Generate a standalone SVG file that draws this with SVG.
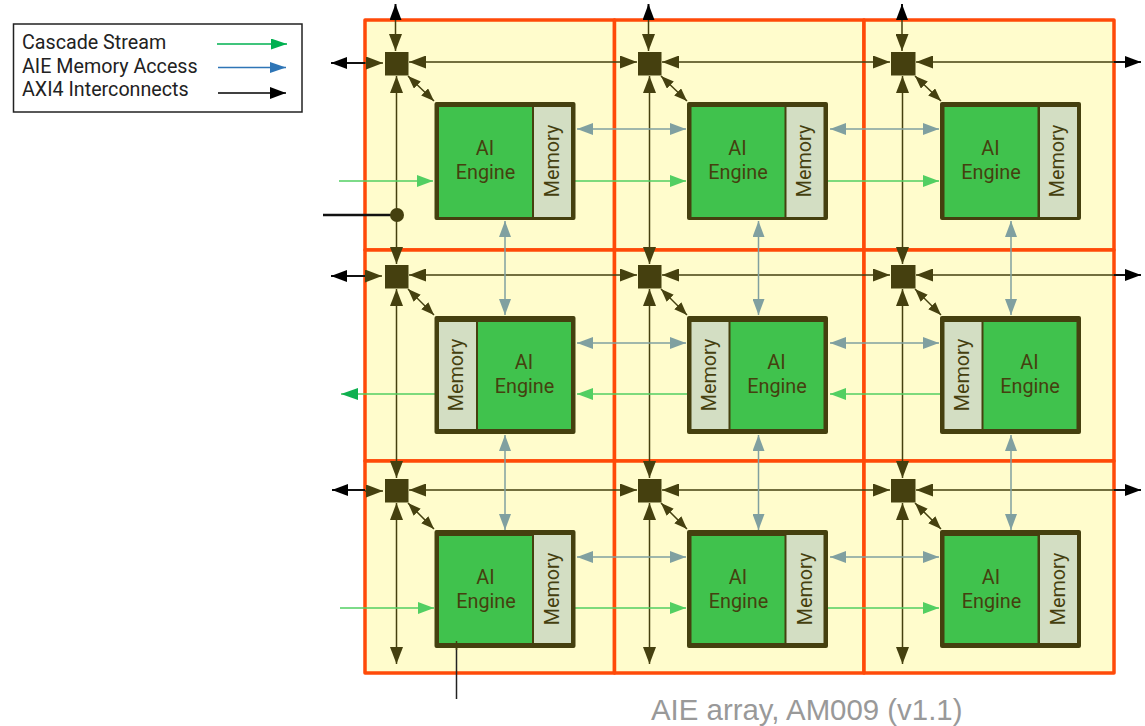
<svg xmlns="http://www.w3.org/2000/svg" width="1145" height="726" viewBox="0 0 1145 726">
<style>
text{font-family:Roboto,"Liberation Sans",sans-serif}
.ol{stroke:#45400f;stroke-width:1.5;fill:none}
.ga{stroke:#80a0a0;stroke-width:1.5;fill:none}
.gr{stroke:#52cf62;stroke-width:1.5;fill:none}
.bk{stroke:#111;stroke-width:2;fill:none}
.cell{fill:#fffccc;stroke:#ff4a08;stroke-width:3.5;stroke-linejoin:round}
.sw{fill:#45400f}
.box{fill:#45400f}
.eng{fill:#40c24d}
.mem{fill:#d3dec3}
.lbl{fill:#45400f;font-size:19.8px;text-anchor:middle}
.lg{fill:#222;font-size:19.7px}
.ol-b{marker-start:url(#mo);marker-end:url(#mo)}
.ol-e{marker-end:url(#mo)}
.ol-d{marker-start:url(#ms);marker-end:url(#ms)}
.ga-b{marker-start:url(#mg);marker-end:url(#mg)}
.gr-e{marker-end:url(#mv)}
</style>
<defs>
<marker id="mo" markerUnits="userSpaceOnUse" markerWidth="17" markerHeight="13" refX="17" refY="6.5" orient="auto-start-reverse"><path d="M0 0L17 6.500L0 13z" fill="#45400f"/></marker>
<marker id="ms" markerUnits="userSpaceOnUse" markerWidth="13" markerHeight="10" refX="13" refY="5" orient="auto-start-reverse"><path d="M0 0L13 5L0 10z" fill="#45400f"/></marker>
<marker id="mg" markerUnits="userSpaceOnUse" markerWidth="16" markerHeight="12" refX="16" refY="6" orient="auto-start-reverse"><path d="M0 0L16 6L0 12z" fill="#80a0a0"/></marker>
<marker id="mv" markerUnits="userSpaceOnUse" markerWidth="16" markerHeight="12" refX="16" refY="6" orient="auto"><path d="M0 0L16 6L0 12z" fill="#52cf62"/></marker>
<marker id="md" markerUnits="userSpaceOnUse" markerWidth="17" markerHeight="12" refX="17" refY="6" orient="auto"><path d="M0 0L17 6L0 12z" fill="#0fb050"/></marker>
<marker id="mb" markerUnits="userSpaceOnUse" markerWidth="16" markerHeight="12" refX="16" refY="6" orient="auto"><path d="M0 0L16 6L0 12z" fill="#000"/></marker>
<marker id="ml" markerUnits="userSpaceOnUse" markerWidth="16" markerHeight="11" refX="16" refY="5.5" orient="auto"><path d="M0 0L16 5.500L0 11z" fill="#2e75b6"/></marker>
<marker id="mn" markerUnits="userSpaceOnUse" markerWidth="16" markerHeight="11" refX="16" refY="5.5" orient="auto"><path d="M0 0L16 5.500L0 11z" fill="#00b050"/></marker>
</defs>

<g id="tiles">
<rect class="cell" x="365" y="20" width="249.500" height="230"/>
<rect class="cell" x="614.500" y="20" width="249.500" height="230"/>
<rect class="cell" x="864" y="20" width="250" height="230"/>
<rect class="cell" x="365" y="250" width="249.500" height="211"/>
<rect class="cell" x="614.500" y="250" width="249.500" height="211"/>
<rect class="cell" x="864" y="250" width="250" height="211"/>
<rect class="cell" x="365" y="461" width="249.500" height="212"/>
<rect class="cell" x="614.500" y="461" width="249.500" height="212"/>
<rect class="cell" x="864" y="461" width="250" height="212"/>
</g>

<g id="connectors">
<line class="bk" x1="395.500" y1="20" x2="395.500" y2="4" marker-end="url(#mb)"/>
<line class="bk" x1="648.500" y1="20" x2="648.500" y2="4" marker-end="url(#mb)"/>
<line class="bk" x1="902" y1="20" x2="902" y2="4" marker-end="url(#mb)"/>
<line class="bk" x1="365" y1="63" x2="331" y2="63" marker-end="url(#mb)"/>
<line class="bk" x1="365" y1="276" x2="331" y2="276" marker-end="url(#mb)"/>
<line class="bk" x1="365" y1="490" x2="332" y2="490" marker-end="url(#mb)"/>
<line class="bk" x1="1114" y1="62" x2="1141" y2="62" marker-end="url(#mb)"/>
<line class="bk" x1="1114" y1="275" x2="1141" y2="275" marker-end="url(#mb)"/>
<line class="bk" x1="1114" y1="490" x2="1141" y2="490" marker-end="url(#mb)"/>
<line class="bk" style="stroke-width:2.5" x1="323" y1="215" x2="396" y2="215"/>
<line x1="456.500" y1="641" x2="456.500" y2="699" stroke="#222" stroke-width="1.500"/>

<line class="ol ol-e" x1="395.500" y1="20" x2="395.500" y2="51"/>
<line class="ol ol-e" x1="648.500" y1="20" x2="648.500" y2="51"/>
<line class="ol ol-e" x1="902" y1="20" x2="902" y2="51"/>
<line class="ol ol-b" x1="396.500" y1="76" x2="396.500" y2="264"/>
<line class="ol ol-b" x1="649.500" y1="76" x2="649.500" y2="264"/>
<line class="ol ol-b" x1="902.500" y1="76" x2="902.500" y2="264"/>
<line class="ol ol-b" x1="396.500" y1="289" x2="396.500" y2="478"/>
<line class="ol ol-b" x1="649.500" y1="289" x2="649.500" y2="478"/>
<line class="ol ol-b" x1="902.500" y1="289" x2="902.500" y2="478"/>
<line class="ol ol-b" x1="396.500" y1="503" x2="396.500" y2="664"/>
<line class="ol ol-b" x1="649.500" y1="503" x2="649.500" y2="664"/>
<line class="ol ol-b" x1="902.500" y1="503" x2="902.500" y2="664"/>
<line class="ol ol-e" x1="365" y1="63" x2="383" y2="63"/>
<line class="ol ol-e" x1="365" y1="276" x2="382" y2="276"/>
<line class="ol ol-e" x1="365" y1="491" x2="383" y2="491"/>
<line class="ol ol-b" x1="409" y1="62" x2="637" y2="62"/>
<line class="ol ol-b" x1="662" y1="62" x2="890" y2="62"/>
<line class="ol ol-e" x1="1114" y1="62" x2="916" y2="62"/>
<line class="ol ol-b" x1="409" y1="275" x2="637" y2="275"/>
<line class="ol ol-b" x1="662" y1="275" x2="890" y2="275"/>
<line class="ol ol-e" x1="1114" y1="275" x2="916" y2="275"/>
<line class="ol ol-b" x1="409" y1="490" x2="637" y2="490"/>
<line class="ol ol-b" x1="662" y1="490" x2="890" y2="490"/>
<line class="ol ol-e" x1="1114" y1="490" x2="916" y2="490"/>
<line class="ol ol-d" x1="408" y1="76" x2="434" y2="101"/>
<line class="ol ol-d" x1="661" y1="76" x2="687" y2="101"/>
<line class="ol ol-d" x1="915" y1="76" x2="941" y2="101"/>
<line class="ol ol-d" x1="408" y1="289" x2="434" y2="315"/>
<line class="ol ol-d" x1="661" y1="289" x2="687" y2="315"/>
<line class="ol ol-d" x1="915" y1="289" x2="941" y2="315"/>
<line class="ol ol-d" x1="408" y1="503" x2="434" y2="529"/>
<line class="ol ol-d" x1="661" y1="503" x2="687" y2="529"/>
<line class="ol ol-d" x1="915" y1="503" x2="941" y2="529"/>

<line class="ga ga-b" x1="577" y1="129" x2="686" y2="129"/>
<line class="ga ga-b" x1="830" y1="129" x2="939" y2="129"/>
<line class="ga ga-b" x1="577" y1="343" x2="686" y2="343"/>
<line class="ga ga-b" x1="830" y1="343" x2="939" y2="343"/>
<line class="ga ga-b" x1="577" y1="557" x2="686" y2="557"/>
<line class="ga ga-b" x1="830" y1="557" x2="939" y2="557"/>
<line class="ga ga-b" x1="505" y1="221" x2="505" y2="315"/>
<line class="ga ga-b" x1="758.500" y1="221" x2="758.500" y2="315"/>
<line class="ga ga-b" x1="1011" y1="221" x2="1011" y2="315"/>
<line class="ga ga-b" x1="505" y1="435" x2="505" y2="530"/>
<line class="ga ga-b" x1="758.500" y1="435" x2="758.500" y2="530"/>
<line class="ga ga-b" x1="1011" y1="435" x2="1011" y2="530"/>

<line class="gr gr-e" x1="339" y1="181" x2="433" y2="181"/>
<line class="gr gr-e" x1="575" y1="181" x2="686" y2="181"/>
<line class="gr gr-e" x1="828" y1="181" x2="939" y2="181"/>
<line class="gr" x1="435" y1="394" x2="341" y2="394" marker-end="url(#md)"/>
<line class="gr gr-e" x1="688" y1="394" x2="577" y2="394"/>
<line class="gr gr-e" x1="941" y1="394" x2="830" y2="394"/>
<line class="gr gr-e" x1="340" y1="608" x2="434" y2="608"/>
<line class="gr gr-e" x1="575" y1="608" x2="686" y2="608"/>
<line class="gr gr-e" x1="828" y1="608" x2="939" y2="608"/>
</g>

<g id="switch-1-1"><rect class="sw" x="385" y="52" width="23.500" height="23.500"/></g>
<g id="switch-1-2"><rect class="sw" x="638" y="52" width="23.500" height="23.500"/></g>
<g id="switch-1-3"><rect class="sw" x="891" y="52" width="24.500" height="23.500"/></g>
<g id="switch-2-1"><rect class="sw" x="385" y="265" width="23.500" height="23.500"/></g>
<g id="switch-2-2"><rect class="sw" x="638" y="265" width="23.500" height="23.500"/></g>
<g id="switch-2-3"><rect class="sw" x="891" y="265" width="24.500" height="23.500"/></g>
<g id="switch-3-1"><rect class="sw" x="385" y="479" width="23.500" height="23.500"/></g>
<g id="switch-3-2"><rect class="sw" x="638" y="479" width="23.500" height="23.500"/></g>
<g id="switch-3-3"><rect class="sw" x="891" y="479" width="24.500" height="23.500"/></g>
<g id="junction"><circle class="sw" cx="397" cy="215" r="7"/></g>

<g id="aie-1-1"><rect class="box" x="434.500" y="102" width="141" height="118" rx="2"/><rect class="eng" x="439" y="107" width="93" height="110"/><rect class="mem" x="534" y="107" width="37" height="110"/><text class="lbl" x="485" y="155">AI</text><text class="lbl" x="485.500" y="179">Engine</text><text class="lbl" transform="translate(559,161) rotate(-90)">Memory</text></g>
<g id="aie-1-2"><rect class="box" x="687" y="102" width="141" height="118" rx="2"/><rect class="eng" x="691.500" y="107" width="93" height="110"/><rect class="mem" x="786.500" y="107" width="37" height="110"/><text class="lbl" x="737.500" y="155">AI</text><text class="lbl" x="738" y="179">Engine</text><text class="lbl" transform="translate(811,161) rotate(-90)">Memory</text></g>
<g id="aie-1-3"><rect class="box" x="940" y="102" width="141" height="118" rx="2"/><rect class="eng" x="944.500" y="107" width="93" height="110"/><rect class="mem" x="1040" y="107" width="37" height="110"/><text class="lbl" x="990.500" y="155">AI</text><text class="lbl" x="991" y="179">Engine</text><text class="lbl" transform="translate(1064,161) rotate(-90)">Memory</text></g>

<g id="aie-2-1"><rect class="box" x="434.500" y="316" width="141" height="118" rx="2"/><rect class="mem" x="439" y="322" width="37" height="107"/><rect class="eng" x="478" y="322" width="93" height="107"/><text class="lbl" x="524" y="369">AI</text><text class="lbl" x="524.500" y="393">Engine</text><text class="lbl" transform="translate(463,375) rotate(-90)">Memory</text></g>
<g id="aie-2-2"><rect class="box" x="687" y="316" width="141" height="118" rx="2"/><rect class="mem" x="691.500" y="322" width="37" height="107"/><rect class="eng" x="730.500" y="322" width="93" height="107"/><text class="lbl" x="776.500" y="369">AI</text><text class="lbl" x="777" y="393">Engine</text><text class="lbl" transform="translate(715.500,375) rotate(-90)">Memory</text></g>
<g id="aie-2-3"><rect class="box" x="940" y="316" width="141" height="118" rx="2"/><rect class="mem" x="944.500" y="322" width="37" height="107"/><rect class="eng" x="983.500" y="322" width="93" height="107"/><text class="lbl" x="1029.500" y="369">AI</text><text class="lbl" x="1030" y="393">Engine</text><text class="lbl" transform="translate(968.500,375) rotate(-90)">Memory</text></g>

<g id="aie-3-1"><rect class="box" x="434.500" y="530" width="141" height="118" rx="2"/><rect class="eng" x="439" y="536" width="93" height="107"/><rect class="mem" x="534" y="535" width="37" height="108"/><text class="lbl" x="485.500" y="583.500">AI</text><text class="lbl" x="486" y="607.500">Engine</text><text class="lbl" transform="translate(559,589) rotate(-90)">Memory</text></g>
<g id="aie-3-2"><rect class="box" x="687" y="530" width="141" height="118" rx="2"/><rect class="eng" x="691.500" y="536" width="93" height="107"/><rect class="mem" x="786.500" y="535" width="37" height="108"/><text class="lbl" x="738" y="583.500">AI</text><text class="lbl" x="738.500" y="607.500">Engine</text><text class="lbl" transform="translate(811.500,589) rotate(-90)">Memory</text></g>
<g id="aie-3-3"><rect class="box" x="940" y="530" width="141" height="118" rx="2"/><rect class="eng" x="944.500" y="536" width="93" height="107"/><rect class="mem" x="1040" y="535" width="37" height="108"/><text class="lbl" x="991" y="583.500">AI</text><text class="lbl" x="991.500" y="607.500">Engine</text><text class="lbl" transform="translate(1065,589) rotate(-90)">Memory</text></g>

<line x1="456.500" y1="641" x2="456.500" y2="650" stroke="#45400f" stroke-width="1.500"/>

<g id="legend">
<rect x="13.500" y="24" width="288.500" height="88" fill="#fff" stroke="#222" stroke-width="1.500"/>
<text class="lg" x="22" y="49">Cascade Stream</text>
<text class="lg" x="22" y="73">AIE Memory Access</text>
<text class="lg" x="22" y="96">AXI4 Interconnects</text>
<line x1="217" y1="44" x2="287" y2="44" stroke="#00b050" stroke-width="1.500" marker-end="url(#mn)"/>
<line x1="218" y1="67.500" x2="286" y2="67.500" stroke="#2e75b6" stroke-width="1.500" marker-end="url(#ml)"/>
<line x1="218" y1="93" x2="286" y2="93" stroke="#000" stroke-width="1.500" marker-end="url(#mb)"/>
</g>

<text id="caption" x="651" y="720" font-size="29.400" fill="#999" style="font-family:'Liberation Sans',Arial,sans-serif">AIE array, AM009 (v1.1)</text>
</svg>
